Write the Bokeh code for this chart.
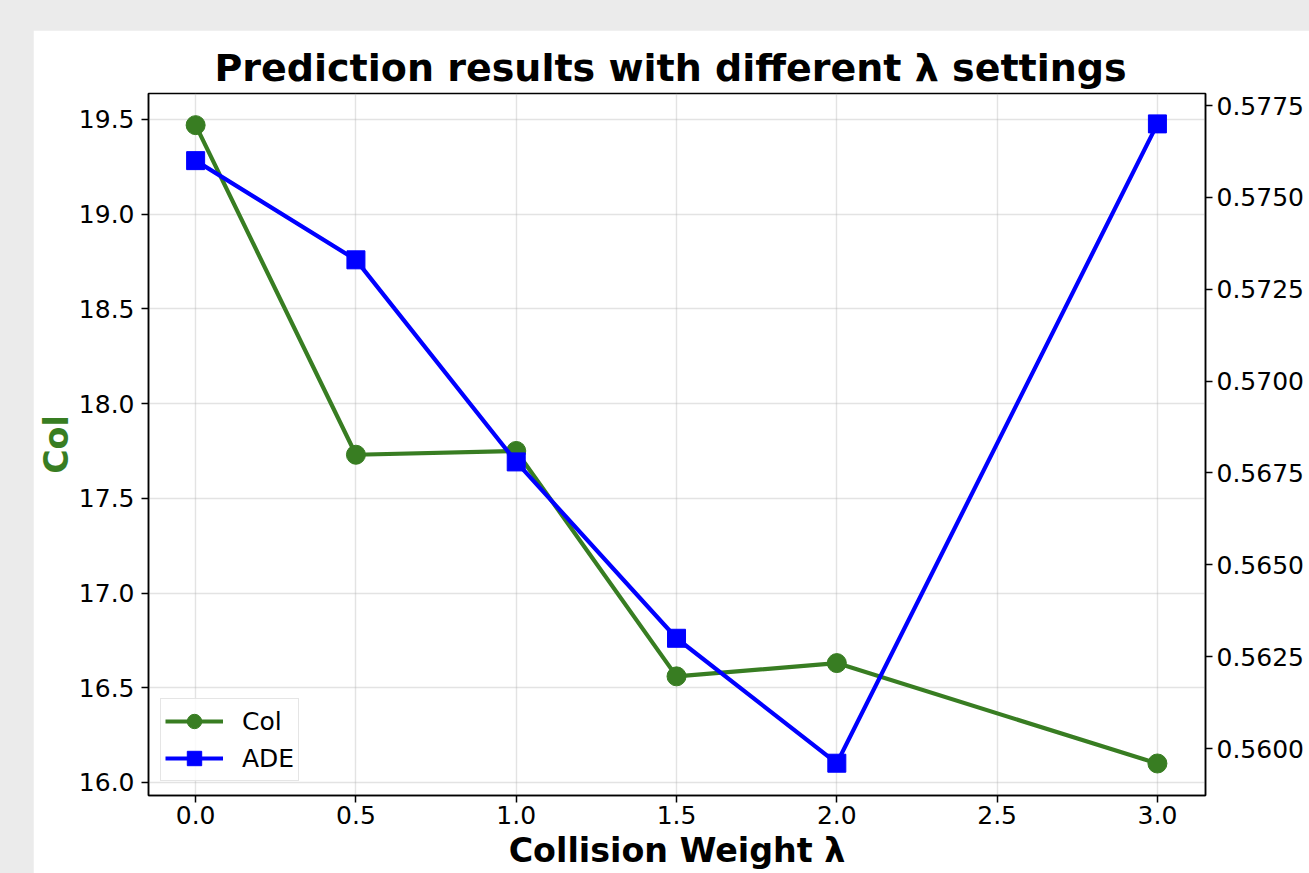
from bokeh.plotting import figure
from bokeh.models import LinearAxis, Range1d, FixedTicker, NumeralTickFormatter, Legend, LegendItem
from bokeh.layouts import column
from bokeh.embed import file_html
from bokeh.resources import INLINE

# ---- data ----
lam = [0.0, 0.5, 1.0, 1.5, 2.0, 3.0]
col_vals = [19.47, 17.73, 17.75, 16.56, 16.63, 16.10]
ade_vals = [0.5760, 0.5733, 0.5678, 0.5630, 0.5596, 0.5770]
x_ticks = [0.0, 0.5, 1.0, 1.5, 2.0, 2.5, 3.0]
col_ticks = [16.0, 16.5, 17.0, 17.5, 18.0, 18.5, 19.0, 19.5]
ade_ticks = [0.5600, 0.5625, 0.5650, 0.5675, 0.5700, 0.5725, 0.5750, 0.5775]
title_text = "Prediction results with different λ settings"
x_label = "Collision Weight λ"
y_label = "Col"

GREEN = "#387d22"
BLUE = "#0000ff"
FONT = "DejaVu Sans"

p = figure(frame_width=1057, frame_height=702,
           min_border_left=115, min_border_right=104, min_border_top=63, min_border_bottom=78,
           x_range=Range1d(-0.147, 3.15), y_range=Range1d(15.931, 19.637),
           output_backend="svg", toolbar_location=None, title=title_text)
p.extra_y_ranges = {"ade": Range1d(0.558721, 0.577827)}

p.background_fill_color = "white"
p.border_fill_color = "white"
p.outline_line_color = "black"
p.outline_line_width = 1.5

p.title.align = "left"
p.title.offset = 66
p.title.text_font = FONT
p.title.text_font_size = "38px"
p.title.text_font_style = "bold"
p.title.text_color = "black"
p.title.standoff = 7

def style_axis(ax, ticks, fmt, standoff):
    ax.ticker = FixedTicker(ticks=ticks)
    ax.formatter = NumeralTickFormatter(format=fmt)
    ax.major_label_text_font = FONT
    ax.major_label_text_font_size = "25px"
    ax.major_label_text_color = "black"
    ax.axis_line_color = "black"
    ax.axis_line_width = 1.5
    ax.major_tick_line_color = "black"
    ax.major_tick_line_width = 1.5
    ax.major_tick_out = 7
    ax.major_tick_in = 0
    ax.minor_tick_line_color = None
    ax.major_label_standoff = standoff

style_axis(p.xaxis[0], x_ticks, "0.0", 3)
style_axis(p.yaxis[0], col_ticks, "0.0", 7)

p.xaxis.axis_label = x_label
p.xaxis.axis_label_text_font = FONT
p.xaxis.axis_label_text_font_size = "33.3px"
p.xaxis.axis_label_text_font_style = "bold"
p.xaxis.axis_label_text_color = "black"
p.xaxis.axis_label_standoff = 4

p.yaxis.axis_label = y_label
p.yaxis.axis_label_text_font = FONT
p.yaxis.axis_label_text_font_size = "33.3px"
p.yaxis.axis_label_text_font_style = "bold"
p.yaxis.axis_label_text_color = GREEN
p.yaxis.axis_label_standoff = 0

right = LinearAxis(y_range_name="ade")
style_axis(right, ade_ticks, "0.0000", 4)
p.add_layout(right, "right")

p.xgrid.ticker = FixedTicker(ticks=x_ticks)
p.ygrid.ticker = FixedTicker(ticks=col_ticks)
for g in (p.xgrid[0], p.ygrid[0]):
    g.grid_line_color = "#b0b0b0"
    g.grid_line_alpha = 0.35
    g.grid_line_width = 1.4

l1 = p.line(lam, col_vals, line_color=GREEN, line_width=4.2)
s1 = p.scatter(lam, col_vals, marker="circle", size=19, fill_color=GREEN, line_color=GREEN)
l2 = p.line(lam, ade_vals, line_color=BLUE, line_width=4.2, y_range_name="ade")
s2 = p.scatter(lam, ade_vals, marker="square", size=18, fill_color=BLUE, line_color=BLUE, y_range_name="ade")

legend = Legend(items=[LegendItem(label="Col", renderers=[l1, s1]),
                       LegendItem(label="ADE", renderers=[l2, s2])],
                location=(12, 14), margin=0, padding=4, spacing=1,
                glyph_width=58, glyph_height=36, label_standoff=19,
                label_text_font=FONT, label_text_font_size="25px", label_text_color="black",
                border_line_color="#cccccc", border_line_width=1.5,
                background_fill_color="white", background_fill_alpha=0.8)
p.add_layout(legend, "center")

layout = column(p, styles={"background-color": "#ebebeb", "margin": "-8px 0 -16px -8px",
                           "padding": "38px 0 0 41px", "overflow": "hidden",
                           "width": "1317px", "height": "881px", "box-sizing": "border-box"})

open("out.html", "w").write(file_html(layout, INLINE))
